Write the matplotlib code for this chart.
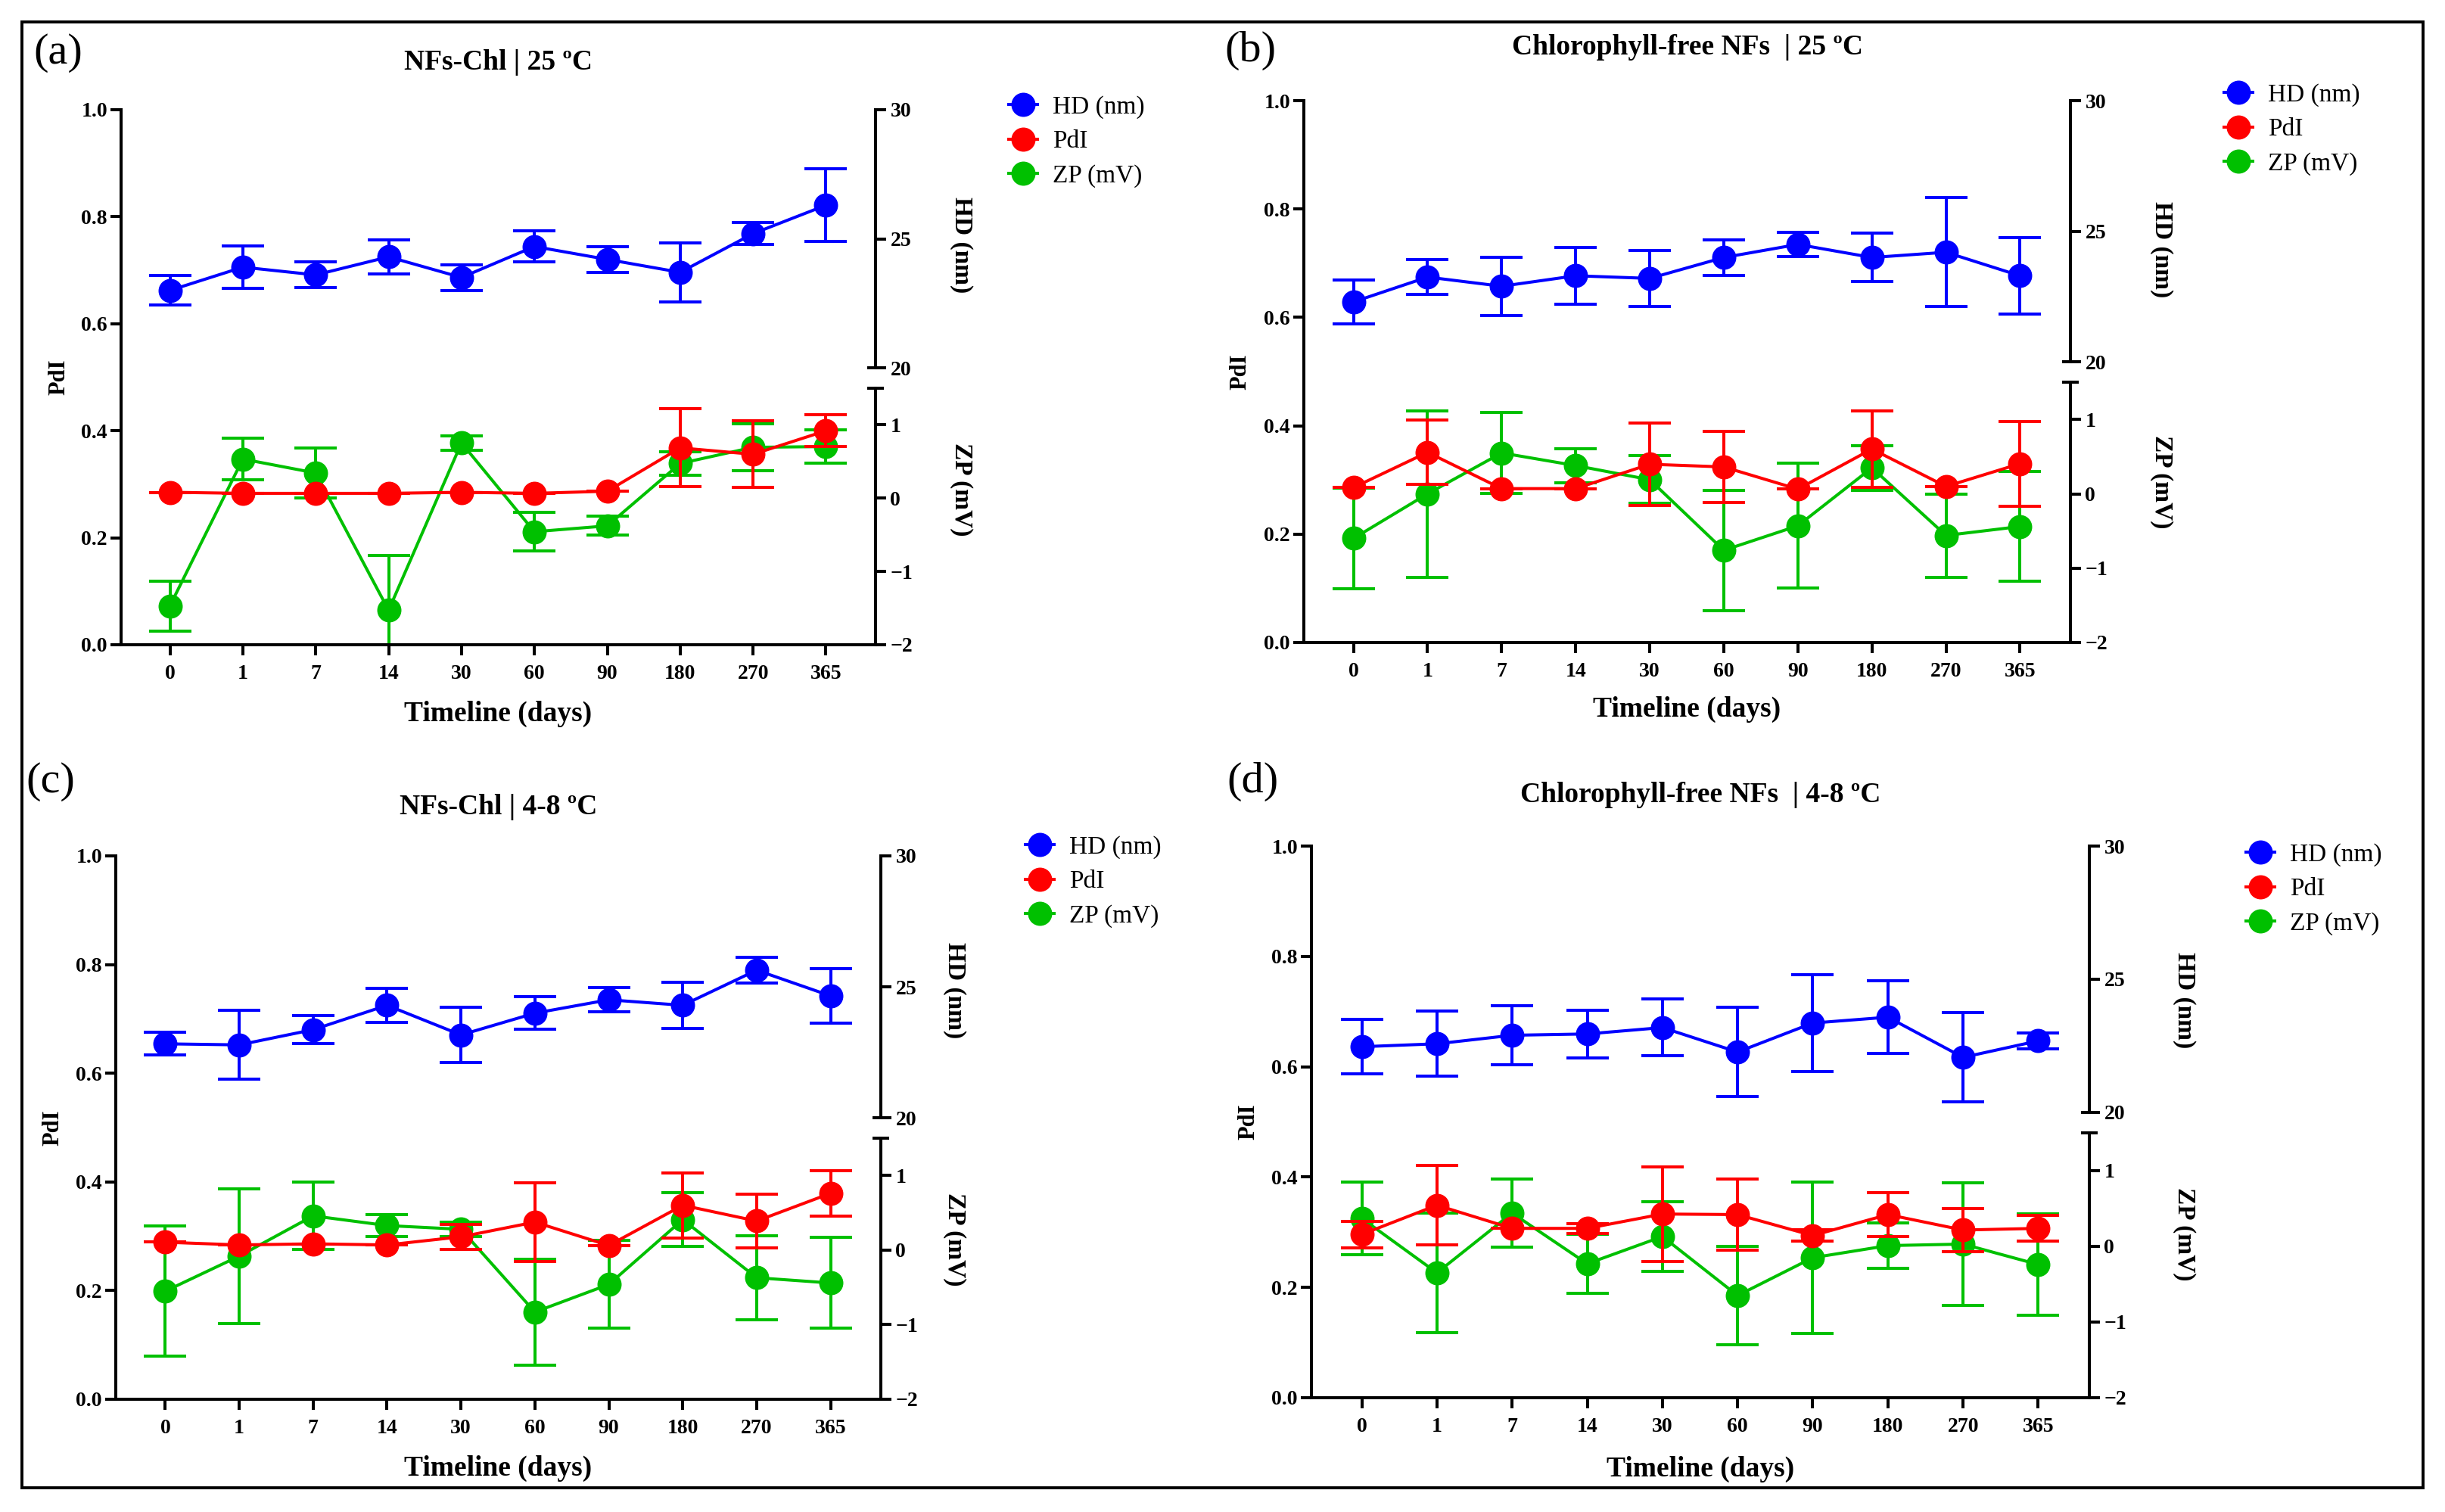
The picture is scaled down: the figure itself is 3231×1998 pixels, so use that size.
import numpy as np
import matplotlib.pyplot as plt
from matplotlib.lines import Line2D
from matplotlib.patches import Rectangle
from matplotlib.ticker import FixedLocator

plt.rcParams['font.family'] = ['Liberation Serif', 'DejaVu Serif']

days = ['0', '1', '7', '14', '30', '60', '90', '180', '270', '365']

titles = ['NFs-Chl | 25 ºC', 'Chlorophyll-free NFs  | 25 ºC',
          'NFs-Chl | 4-8 ºC', 'Chlorophyll-free NFs  | 4-8 ºC']
letters = ['(a)', '(b)', '(c)', '(d)']

# (a) NFs-Chl 25 C
hd_a = [23.0, 23.9, 23.6, 24.3, 23.5, 24.7, 24.2, 23.7, 25.2, 26.3]
hd_a_err = [0.57, 0.83, 0.5, 0.67, 0.5, 0.6, 0.5, 1.14, 0.43, 1.4]
pdi_a = [0.285, 0.283, 0.283, 0.283, 0.285, 0.283, 0.287, 0.368, 0.356, 0.400]
pdi_a_err = [0, 0, 0, 0, 0, 0, 0, 0.073, 0.062, 0.03]
zp_a = [-1.47, 0.53, 0.34, -1.53, 0.75, -0.46, -0.38, 0.47, 0.69, 0.70]
zp_a_err = [0.34, 0.28, 0.34, 0.75, 0.1, 0.26, 0.13, 0.16, 0.32, 0.23]

# (b) chlorophyll-free 25 C
hd_b = [22.3, 23.25, 22.9, 23.3, 23.2, 24.0, 24.5, 24.0, 24.2, 23.3]
hd_b_err = [0.85, 0.67, 1.12, 1.08, 1.07, 0.68, 0.46, 0.93, 2.08, 1.47]
pdi_b = [0.286, 0.351, 0.284, 0.284, 0.329, 0.324, 0.283, 0.357, 0.288, 0.330]
pdi_b_err = [0, 0.059, 0, 0, 0.076, 0.066, 0, 0.071, 0, 0.078]
zp_b = [-0.6, 0.0, 0.55, 0.38, 0.19, -0.76, -0.43, 0.35, -0.56, -0.44]
zp_b_err = [0.68, 1.12, 0.54, 0.23, 0.32, 0.81, 0.84, 0.3, 0.56, 0.74]

# (c) NFs-Chl 4-8 C
hd_c = [22.83, 22.79, 23.37, 24.3, 23.17, 24.0, 24.51, 24.3, 25.64, 24.66]
hd_c_err = [0.43, 1.32, 0.53, 0.66, 1.06, 0.62, 0.47, 0.89, 0.5, 1.03]
pdi_c = [0.289, 0.284, 0.286, 0.284, 0.299, 0.326, 0.283, 0.357, 0.328, 0.379]
pdi_c_err = [0, 0, 0, 0, 0.023, 0.073, 0, 0.06, 0.05, 0.042]
zp_c = [-0.55, -0.08, 0.46, 0.33, 0.28, -0.83, -0.46, 0.41, -0.37, -0.44]
zp_c_err = [0.87, 0.9, 0.45, 0.15, 0.1, 0.71, 0.59, 0.36, 0.56, 0.61]

# (d) chlorophyll-free 4-8 C
hd_d = [22.46, 22.57, 22.89, 22.94, 23.18, 22.26, 23.35, 23.57, 22.06, 22.68]
hd_d_err = [1.02, 1.22, 1.12, 0.89, 1.07, 1.68, 1.82, 1.36, 1.67, 0.31]
pdi_d = [0.296, 0.349, 0.307, 0.307, 0.333, 0.332, 0.294, 0.332, 0.304, 0.307]
pdi_d_err = [0.024, 0.072, 0, 0.009, 0.086, 0.065, 0.01, 0.04, 0.039, 0.023]
zp_d = [0.37, -0.35, 0.44, -0.23, 0.13, -0.65, -0.15, 0.01, 0.03, -0.24]
zp_d_err = [0.48, 0.79, 0.45, 0.39, 0.46, 0.65, 1.0, 0.3, 0.81, 0.67]

panels = [
    (hd_a, hd_a_err, pdi_a, pdi_a_err, zp_a, zp_a_err),
    (hd_b, hd_b_err, pdi_b, pdi_b_err, zp_b, zp_b_err),
    (hd_c, hd_c_err, pdi_c, pdi_c_err, zp_c, zp_c_err),
    (hd_d, hd_d_err, pdi_d, pdi_d_err, zp_d, zp_d_err),
]

W, H = 3231, 1998
# axes boxes in pixels: left, right, top, bottom
boxes = [(160, 1157, 145, 852), (1723, 2736, 133, 849),
         (153, 1164, 1131, 1849), (1733, 2761, 1118, 1847)]
# label positions in axes fraction: xlabel y, pdi x, right-label x, hd y, zp y, title y
lab = [(-0.130, -0.082, 1.114, 0.747, 0.290, 1.089),
       (-0.124, -0.083, 1.119, 0.725, 0.297, 1.099),
       (-0.128, -0.082, 1.096, 0.752, 0.294, 1.090),
       (-0.129, -0.081, 1.122, 0.720, 0.296, 1.092)]
letter_pos = [(77, 70), (1652, 67), (67, 1033), (1655, 1033)]
legend_pos = [(1352, 145), (2958, 129), (1374, 1123), (2987, 1133)]

BLUE, RED, GREEN = '#0000FF', '#FF0000', '#00C000'
lw = 1.45
ms = 10.5
cap = 10
eb = dict(lw=lw, ms=ms, capsize=cap, capthick=lw, marker='o', clip_on=True)

fig = plt.figure(figsize=(W / 200, H / 200), dpi=200)
x = np.arange(len(days))

for i, (hd, hde, pdi, pdie, zp, zpe) in enumerate(panels):
    l, r, t, b = boxes[i]
    rect = [l / W, 1 - b / H, (r - l) / W, (b - t) / H]
    ax_zp = fig.add_axes(rect)
    ax = fig.add_axes(rect)
    ax_hd = fig.add_axes(rect)
    ax_zp.set_zorder(1)
    ax.set_zorder(2)
    ax_hd.set_zorder(3)
    for a in (ax, ax_hd):
        a.patch.set_visible(False)

    ax_zp.errorbar(x, zp, yerr=zpe, color=GREEN, **eb)
    ax.errorbar(x, pdi, yerr=pdie, color=RED, **eb)
    ax_hd.errorbar(x, hd, yerr=hde, color=BLUE, **eb)

    for a in (ax, ax_hd, ax_zp):
        a.set_xlim(-0.67, 9.68)

    ax.set_ylim(0, 1.0)
    ax_hd.set_ylim(9.27, 30.0)
    ax_zp.set_ylim(-2, 5.289)

    # main PdI axis
    ax.spines['top'].set_visible(False)
    ax.spines['right'].set_visible(False)
    ax.spines['left'].set_linewidth(lw)
    ax.spines['bottom'].set_linewidth(lw)
    ax.set_yticks([0, 0.2, 0.4, 0.6, 0.8, 1.0])
    ax.set_yticklabels(['0.0', '0.2', '0.4', '0.6', '0.8', '1.0'])
    ax.set_xticks(x)
    ax.set_xticklabels(days)
    ax.tick_params(axis='y', length=5, width=lw, pad=1.5, labelsize=10)
    ax.tick_params(axis='x', length=5, width=lw, pad=4.5, labelsize=10)
    for tl in ax.get_xticklabels() + ax.get_yticklabels():
        tl.set_fontweight('bold')

    # right-hand axes
    for a, lo, hi, ticks in ((ax_hd, 20, 30, [20, 25, 30]), (ax_zp, -2, 1.5, [-2, -1, 0, 1])):
        for s in ('top', 'left', 'bottom'):
            a.spines[s].set_visible(False)
        a.spines['right'].set_linewidth(lw)
        a.spines['right'].set_bounds(lo, hi)
        a.xaxis.set_visible(False)
        a.yaxis.tick_right()
        a.set_yticks(ticks)
        a.tick_params(axis='y', length=5, width=lw, pad=2, labelsize=10)
        for tl in a.get_yticklabels():
            tl.set_fontweight('bold')
        a.yaxis.remove_overlapping_locs = False
    ax_hd.yaxis.set_minor_locator(FixedLocator([20]))
    ax_zp.yaxis.set_minor_locator(FixedLocator([1.5]))
    for a in (ax_hd, ax_zp):
        a.tick_params(axis='y', which='minor', direction='inout', length=8, width=lw)

    xl_y, pd_x, rl_x, hd_y, zp_y, ti_y = lab[i]
    ax.text(0.5, xl_y, 'Timeline (days)', transform=ax.transAxes, ha='center', va='center',
            fontsize=13.5, fontweight='bold')
    ax.text(pd_x, 0.5, 'PdI', transform=ax.transAxes, ha='center', va='center',
            rotation=90, fontsize=11, fontweight='bold')
    ax.text(rl_x, hd_y, 'HD (nm)', transform=ax.transAxes, ha='center', va='center',
            rotation=270, fontsize=12, fontweight='bold')
    ax.text(rl_x, zp_y, 'ZP (mV)', transform=ax.transAxes, ha='center', va='center',
            rotation=270, fontsize=12, fontweight='bold')
    ax.text(0.5, ti_y, titles[i], transform=ax.transAxes, ha='center', va='center',
            fontsize=13.5, fontweight='bold')

    lx, ly = letter_pos[i]
    fig.text(lx / W, 1 - ly / H, letters[i], ha='center', va='center', fontsize=21)

    handles = [Line2D([0], [0], color=c, marker='o', ms=ms, lw=lw) for c in (BLUE, RED, GREEN)]
    gx, gy = legend_pos[i]
    fig.legend(handles, ['HD (nm)', 'PdI', 'ZP (mV)'], loc='upper left',
               bbox_to_anchor=((gx - 19) / W, 1 - (gy - 19) / H), frameon=False,
               borderpad=0, borderaxespad=0, handlelength=1.15, handletextpad=0.6,
               labelspacing=0.45, fontsize=12)

fig.patches.append(Rectangle((29 / W, 1 - 1966 / H), (3202 - 29) / W, (1966 - 29) / H,
                             transform=fig.transFigure, fill=False, lw=1.4, ec='black'))

fig.savefig('out.png', dpi=200, facecolor='white')
